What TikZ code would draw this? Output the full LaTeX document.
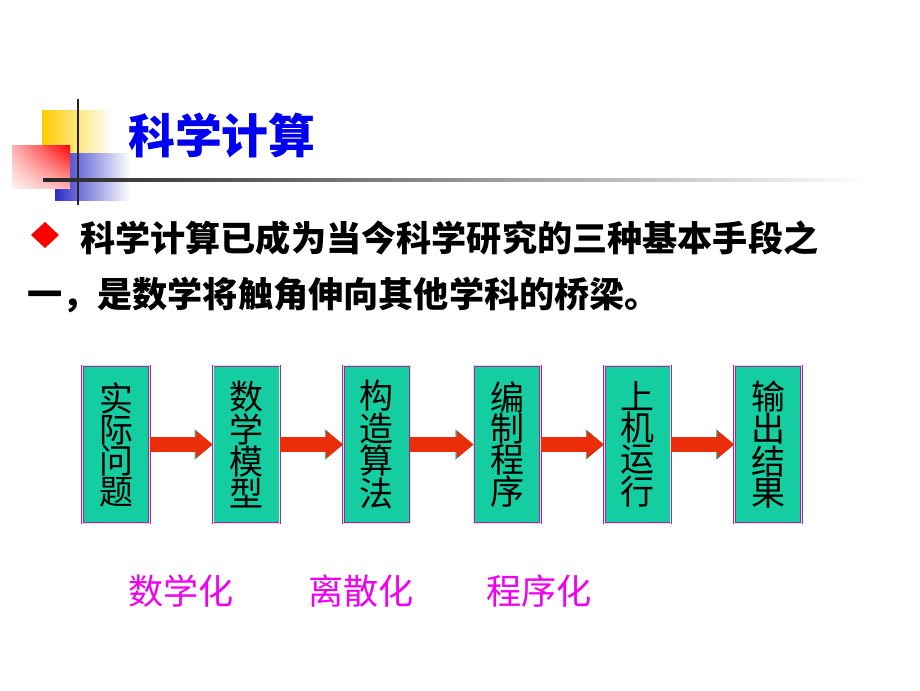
\documentclass[tikz,border=0pt]{standalone}
\usepackage{fontspec}
\newfontfamily\cjk{Noto Sans CJK SC}
\usetikzlibrary{arrows.meta,shadings}
\definecolor{titleblue}{RGB}{0,0,240}
\definecolor{boxfill}{RGB}{20,205,160}
\definecolor{boxline}{RGB}{150,50,150}
\definecolor{flowred}{RGB}{235,45,10}
\definecolor{flowedge}{RGB}{40,200,170}
\definecolor{stepmag}{RGB}{240,0,240}
\definecolor{decoyellow}{RGB}{255,204,0}
\definecolor{decoblue}{RGB}{45,45,200}
\tikzset{
  stage/.style={draw=boxline,double=white!80!boxline,double distance=0.9pt,line width=0.6pt,
    fill=boxfill,minimum width=2.0cm,minimum height=4.72cm,inner sep=0pt,align=center,
    font=\cjk\fontsize{29pt}{26.5pt}\selectfont},
  flow/.style={line width=12pt,flowred,-{Triangle[width=23pt,length=14.5pt]},
    preaction={draw=flowedge,line width=13pt,-{Triangle[width=25pt,length=15.5pt]}}},
  phase/.style={text=stepmag,font=\cjk\fontsize{30pt}{32pt}\selectfont,inner sep=0pt}
}
\begin{document}
\begin{tikzpicture}[x=0.03cm,y=-0.03cm]
                \useasboundingbox (0,0) rectangle (920,690);
                % corner decoration
                \shade[left color=decoyellow,middle color=decoyellow!80,right color=white] (42,110) rectangle (112,153);
                \shade[left color=decoblue,middle color=decoblue!80,right color=white] (55,153) rectangle (130,200);
                \shade[upper right=red,upper left=red!30,lower right=red!30,lower left=red!6] (12,145) rectangle (70,188);
                \draw[black!85,line width=2.5pt] (78,99) -- (78,205);
                \shade[left color=black!85,middle color=black!60,right color=white] (43,178.5) rectangle (870,181.5);
                % title and text
                \node[anchor=west,inner sep=0pt,text=titleblue,font=\cjk\bfseries\fontsize{40pt}{42pt}\selectfont] (title) at (128,136) {科学计算};
                \fill[red] (45,222) -- (59,235) -- (45,248) -- (31,235) -- cycle;
                \node[anchor=west,inner sep=0pt,font=\cjk\bfseries\fontsize{30pt}{32pt}\selectfont] (line1) at (80,238) {科学计算已成为当今科学研究的三种基本手段之};
                \node[anchor=west,inner sep=0pt,font=\cjk\bfseries\fontsize{30pt}{32pt}\selectfont] (line2) at (27,295) {一，是数学将触角伸向其他学科的桥梁。};
                % chain of stages
                \foreach \i/\t in {1/{实\\际\\问\\题},2/{数\\学\\模\\型},3/{构\\造\\算\\法},4/{编\\制\\程\\序},5/{上\\机\\运\\行},6/{输\\出\\结\\果}}{
                    \node[stage] (s\i) at ({116+(\i-1)*130.4},444.5) {\t};
                }
                \foreach \i [evaluate=\i as \j using int(\i+1)] in {1,...,5}{
                    \draw[flow] (s\i.east) -- (s\j.west);
                }
                \node[phase] (p1) at (181,591) {数学化};
                \node[phase] (p2) at (361,591) {离散化};
                \node[phase] (p3) at (539,591) {程序化};
\end{tikzpicture}
\end{document}
